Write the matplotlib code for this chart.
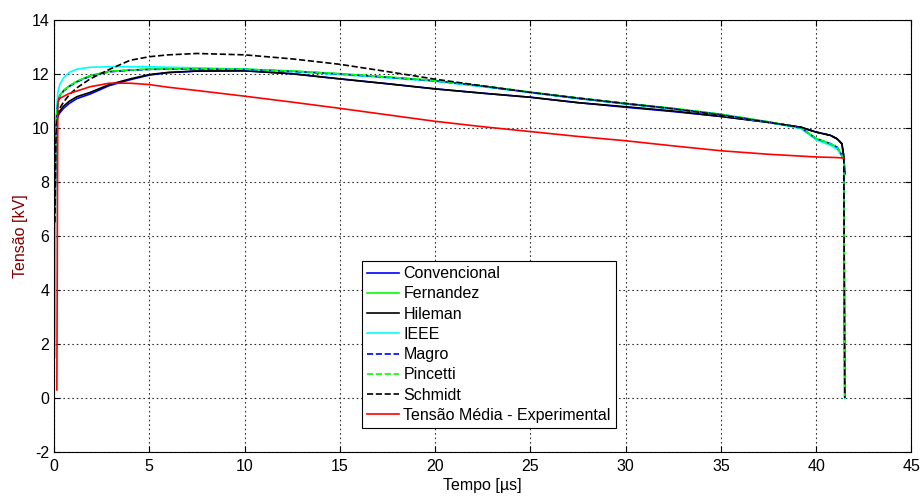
import matplotlib
matplotlib.use("Agg")
import matplotlib.pyplot as plt

plt.rcParams['font.family'] = ['Liberation Sans', 'DejaVu Sans']
plt.rcParams['axes.unicode_minus'] = False

# tempo [us] comum aos modelos
t_mod = [0.05, 0.1, 0.15, 0.2, 0.3, 0.5, 0.8, 1.2, 1.9, 2.9, 4, 5, 6, 7.5, 10,
         12.5, 15, 17.5, 20, 22.5, 25, 27.5, 30, 32.5, 35, 37.5, 39.2, 40,
         40.75, 41.1, 41.35, 41.45, 41.5]

v_convencional = [6.8, 9.7, 10.2, 10.42, 10.55, 10.72, 10.9, 11.08, 11.25, 11.56,
                  11.78, 11.95, 12.04, 12.1, 12.11, 12.0, 11.81, 11.63, 11.44,
                  11.28, 11.13, 10.93, 10.76, 10.6, 10.42, 10.2, 10.02, 9.84,
                  9.72, 9.59, 9.41, 8.92, 8.3]
v_fernandez = [7.2, 10.0, 10.6, 10.9, 11.2, 11.38, 11.55, 11.72, 11.93, 12.09,
               12.14, 12.17, 12.18, 12.19, 12.17, 12.1, 12.0, 11.88, 11.75,
               11.55, 11.32, 11.1, 10.9, 10.72, 10.5, 10.22, 10.0, 9.6, 9.41,
               9.28, 8.98, 8.8, 0.0]
v_hileman = [7.0, 9.8, 10.3, 10.5, 10.62, 10.8, 10.98, 11.15, 11.31, 11.6,
             11.81, 11.97, 12.05, 12.1, 12.11, 12.0, 11.81, 11.63, 11.44, 11.28,
             11.13, 10.93, 10.78, 10.62, 10.42, 10.2, 10.02, 9.84, 9.72, 9.59,
             9.41, 8.92, 8.3]
v_ieee = [1.5, 9.0, 10.8, 11.3, 11.6, 11.85, 12.05, 12.17, 12.24, 12.26, 12.26,
          12.26, 12.24, 12.22, 12.17, 12.08, 11.97, 11.85, 11.72, 11.52, 11.3,
          11.08, 10.88, 10.7, 10.48, 10.2, 9.97, 9.55, 9.35, 9.2, 8.95, 8.8, 0.0]
v_magro = [7.1, 9.9, 10.55, 10.85, 11.18, 11.36, 11.53, 11.7, 11.91, 12.07,
           12.13, 12.16, 12.17, 12.18, 12.16, 12.09, 11.99, 11.87, 11.74, 11.54,
           11.31, 11.09, 10.89, 10.71, 10.49, 10.21, 10.0, 9.6, 9.41, 9.28,
           8.98, 8.8, 0.0]
v_pincetti = [7.2, 10.0, 10.6, 10.9, 11.2, 11.38, 11.55, 11.72, 11.93, 12.09,
              12.14, 12.17, 12.18, 12.19, 12.17, 12.1, 12.0, 11.88, 11.75, 11.55,
              11.32, 11.1, 10.9, 10.72, 10.5, 10.22, 10.0, 9.6, 9.41, 9.28, 8.98,
              8.8, 0.0]
v_schmidt = [6.5, 9.5, 10.2, 10.5, 10.72, 10.95, 11.22, 11.48, 11.81, 12.16,
             12.5, 12.63, 12.7, 12.75, 12.7, 12.55, 12.35, 12.08, 11.8, 11.55,
             11.31, 11.1, 10.9, 10.7, 10.47, 10.2, 10.02, 9.84, 9.72, 9.59, 9.41,
             8.92, 0.0]

# tensao media experimental
t_exp = [0.15, 0.2, 0.25, 0.8, 1.9, 2.9, 4, 5, 6, 7.5, 10, 12.5, 15, 17.5, 20,
         22.5, 25, 27.5, 30, 32.5, 35, 37.5, 40, 41, 41.45]
v_exp = [0.3, 10.9, 11.07, 11.27, 11.52, 11.65, 11.65, 11.6, 11.5, 11.38, 11.17,
         10.95, 10.72, 10.48, 10.24, 10.04, 9.86, 9.68, 9.52, 9.33, 9.15, 9.02,
         8.92, 8.9, 8.88]

series = [
    ("Convencional", v_convencional, '#0000ff', '-'),
    ("Fernandez", v_fernandez, '#00ff00', '-'),
    ("Hileman", v_hileman, 'k', '-'),
    ("IEEE", v_ieee, '#00ffff', '-'),
    ("Magro", v_magro, '#0000ff', '--'),
    ("Pincetti", v_pincetti, '#00ff00', '--'),
    ("Schmidt", v_schmidt, 'k', '--'),
]

fig = plt.figure(figsize=(9.23, 4.98), dpi=100)
ax = fig.add_axes([0.0585, 0.0924, 0.929, 0.868])

for name, v, c, ls in series:
    ax.plot(t_mod, v, color=c, linestyle=ls, linewidth=1.2, label=name)
ax.plot(t_exp, v_exp, color='#ff0000', linewidth=1.2,
        label="Tensão Média - Experimental")

ax.set_xlim(0, 45)
ax.set_ylim(-2, 14)
ax.set_xticks(range(0, 46, 5))
ax.set_yticks(range(-2, 15, 2))
ax.grid(True, color='0.2', linestyle=(0, (1.5, 2.5)), linewidth=0.8)
ax.tick_params(direction='in', top=True, right=True, labelsize=11.5, length=4)
ax.tick_params(axis='x', pad=5)
for s in ax.spines.values():
    s.set_linewidth(0.8)

ax.set_xlabel("Tempo [µs]", fontsize=11.5, labelpad=3)
ax.set_ylabel("Tensão [kV]", fontsize=11.5, color='#800000', labelpad=2)

leg = ax.legend(loc='lower left', bbox_to_anchor=(0.359, 0.056),
                borderaxespad=0, fontsize=11.5, labelspacing=0.33,
                handlelength=2.05, handletextpad=0.25, borderpad=0.3,
                fancybox=False, framealpha=1)
leg.get_frame().set_edgecolor('k')
leg.get_frame().set_linewidth(0.8)

fig.savefig("out.png", dpi=100)
